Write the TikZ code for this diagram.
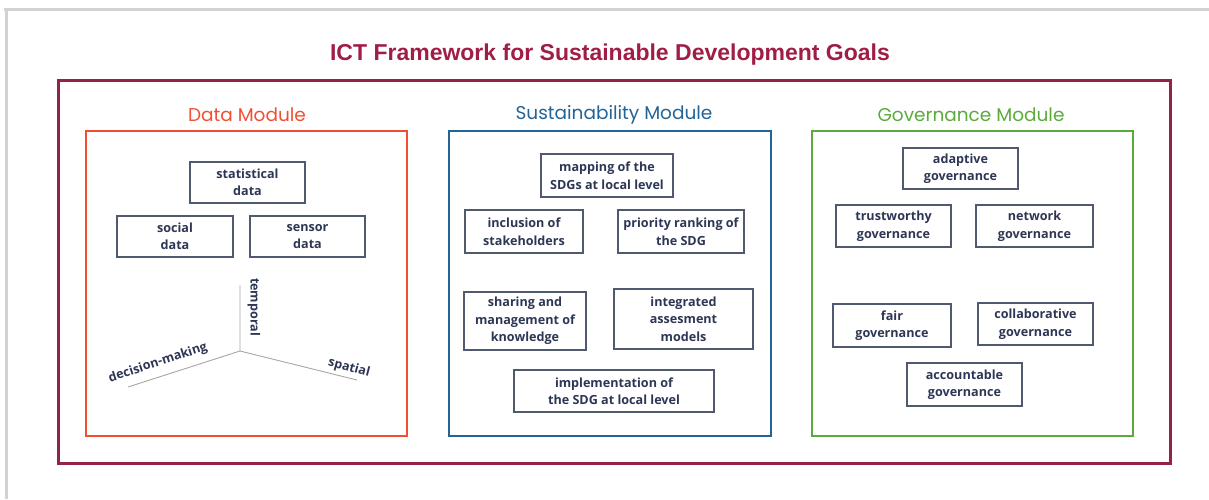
\documentclass[tikz,border=0pt]{standalone}
\usepackage{fontspec}
\setmainfont{Open Sans}
\newfontfamily\popfont{Poppins}
\newfontfamily\titlefont{Liberation Sans}
\usepackage{tikz}
\usetikzlibrary{positioning}

\definecolor{titlered}{RGB}{160,30,70}
\definecolor{framered}{RGB}{145,35,75}
\definecolor{datared}{RGB}{240,80,50}
\definecolor{sustblue}{RGB}{35,100,150}
\definecolor{govgreen}{RGB}{90,170,60}
\definecolor{itemgray}{RGB}{80,90,110}
\definecolor{itemtext}{RGB}{45,55,85}

\begin{document}
\begin{tikzpicture}[x=1pt, y=-1pt,
    item/.style={draw=itemgray, line width=1.3pt, fill=white, align=center,
      text=itemtext, font=\bfseries\fontsize{12.6}{17.5}\selectfont, inner sep=1pt},
    modbox/.style={line width=2.8pt},
    modlabel/.style={font=\popfont\fontsize{18.5}{22}\selectfont},
    axisline/.style={draw=gray!70, line width=0.9pt},
    axislabel/.style={text=itemtext, font=\bfseries\fontsize{12.6}{14}\selectfont, inner sep=0pt}]
  \useasboundingbox (0,0) rectangle (1209,499);
  \draw[gray!35, line width=3pt] (4,9) -- (1209,9) (6,9) -- (6,499);

  % title and outer frame
  \node[text=titlered, font=\titlefont\bfseries\fontsize{23}{26}\selectfont] (title) at (610,55)
    {ICT Framework for Sustainable Development Goals};
  \draw[framered, line width=3pt] (58,80) rectangle (1170,463);

  % the three modules
  \draw[datared, modbox] (86,131) rectangle (407,436);
  \draw[sustblue, modbox] (449,131) rectangle (771,436);
  \draw[govgreen, modbox] (812,131) rectangle (1133,436);
  \node[modlabel, text=datared] (datalbl) at (247,115) {Data Module};
  \node[modlabel, text=sustblue] (sustlbl) at (614,115) {Sustainability Module};
  \node[modlabel, text=govgreen] (govlbl) at (971,115) {Governance Module};

  % data module
  \node[item, minimum width=115pt, minimum height=41pt] (stat) at (247.5,182.5) {statistical\\data};
  \node[item, minimum width=116pt, minimum height=41pt] (social) at (175,236.5) {social\\data};
  \node[item, minimum width=115pt, minimum height=41pt] (sensor) at (307.5,236.5) {sensor\\data};

  \coordinate (orig) at (240,351);
  \coordinate (tend) at (240,285);
  \coordinate (dend) at (128,387);
  \coordinate (send) at (357,380);
  \draw[axisline] (orig) -- (tend) (orig) -- (dend) (orig) -- (send);
  \node[axislabel, rotate=-90] (temporal) at (254,307) {temporal};
  \node[axislabel, rotate=18] (decision) at (158,363) {decision-making};
  \node[axislabel, rotate=-15] (spatial) at (349,368) {spatial};

  % sustainability module
  \node[item, minimum width=132pt, minimum height=43pt] (mapping) at (607,175.5) {mapping of the\\SDGs at local level};
  \node[item, minimum width=118pt, minimum height=43pt] (inclusion) at (524,231.5) {inclusion of\\stakeholders};
  \node[item, minimum width=126pt, minimum height=43pt] (priority) at (681,231.5) {priority ranking of\\the SDG};
  \node[item, minimum width=122pt, minimum height=58pt] (sharing) at (525,321) {sharing and\\management of\\knowledge};
  \node[item, minimum width=139pt, minimum height=60pt] (integrated) at (683.5,319) {integrated\\assesment\\models};
  \node[item, minimum width=200pt, minimum height=42pt] (implement) at (614,391) {implementation of\\the SDG at local level};

  % governance module
  \node[item, minimum width=115pt, minimum height=41pt] (adaptive) at (960.5,168.5) {adaptive\\governance};
  \node[item, minimum width=115pt, minimum height=42pt] (trust) at (893.5,226) {trustworthy\\governance};
  \node[item, minimum width=117pt, minimum height=42pt] (network) at (1034.5,226) {network\\governance};
  \node[item, minimum width=118pt, minimum height=43pt] (fair) at (892,325.5) {fair\\governance};
  \node[item, minimum width=115pt, minimum height=42pt] (collab) at (1035.5,324) {collaborative\\governance};
  \node[item, minimum width=115pt, minimum height=43pt] (account) at (964.5,384.5) {accountable\\governance};
\end{tikzpicture}
\end{document}
